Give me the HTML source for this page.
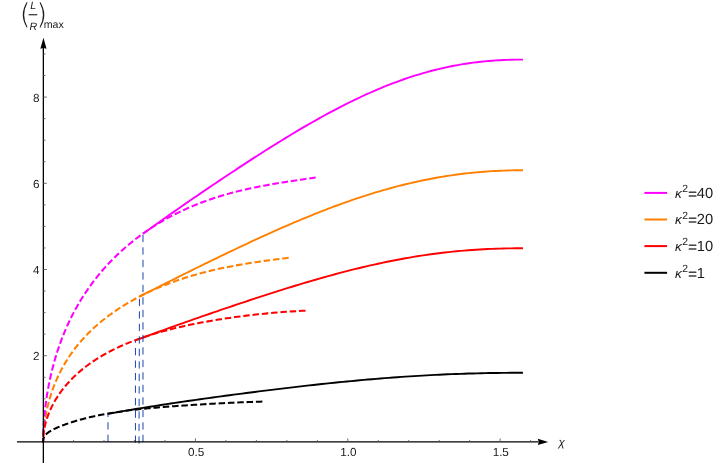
<!DOCTYPE html>
<html><head><meta charset="utf-8"><title>plot</title>
<style>
html,body{margin:0;padding:0;background:#fff;}
body{width:719px;height:465px;overflow:hidden;font-family:"Liberation Sans",sans-serif;}
svg{display:block;font-family:"Liberation Sans",sans-serif;will-change:transform;}
text{text-rendering:geometricPrecision;}
</style></head><body>
<svg width="719" height="465" viewBox="0 0 719 465">
<rect width="719" height="465" fill="#fff"/>
<path d="M43.10,442.25 L43.11,440.76 L43.14,439.25 L43.19,437.71 L43.26,436.15 L43.34,434.56 L43.45,432.95 L43.58,431.33 L43.72,429.69 L43.89,428.03 L44.07,426.36 L44.28,424.67 L44.50,422.98 L44.74,421.27 L45.00,419.56 L45.29,417.84 L45.59,416.11 L45.91,414.38 L46.25,412.64 L46.61,410.91 L46.99,409.17 L47.38,407.43 L47.80,405.69 L48.24,403.95 L48.70,402.21 L49.17,400.47 L49.67,398.74 L50.18,397.01 L50.72,395.29 L51.27,393.57 L51.84,391.86 L52.44,390.15 L53.05,388.45 L53.68,386.75 L54.33,385.07 L55.00,383.39 L55.69,381.72 L56.40,380.06 L57.13,378.40 L57.88,376.76 L58.64,375.12 L59.43,373.50 L60.24,371.88 L61.06,370.27 L61.91,368.68 L62.77,367.09 L63.66,365.51 L64.56,363.95 L65.48,362.39 L66.43,360.85 L67.39,359.32 L68.37,357.79 L69.37,356.28 L70.39,354.78 L71.43,353.29 L72.49,351.81 L73.57,350.34 L74.66,348.88 L75.78,347.44 L76.92,346.00 L78.07,344.58 L79.25,343.16 L80.44,341.76 L81.66,340.37 L82.89,338.99 L84.15,337.61 L85.42,336.25 L86.71,334.90 L88.02,333.57 L89.35,332.24 L90.70,330.92 L92.07,329.61 L93.46,328.32 L94.87,327.03 L96.30,325.75 L97.75,324.49 L99.21,323.23 L100.70,321.99 L102.20,320.75 L103.73,319.53 L105.27,318.32 L106.84,317.11 L108.42,315.92 L110.03,314.74 L111.65,313.56 L113.29,312.40 L114.95,311.25 L116.63,310.11 L118.33,308.97 L120.05,307.85 L121.79,306.74 L123.55,305.64 L125.33,304.55 L127.12,303.47 L128.94,302.40 L130.78,301.34 L132.63,300.30 L134.51,299.26 L136.40,298.23 L138.31,297.22 L140.25,296.21 L142.20,295.22 L144.17,294.24 L146.16,293.26 L148.18,292.30 L150.21,291.36 L152.26,290.42 L154.32,289.49 L156.41,288.58 L158.52,287.67 L160.65,286.78 L162.80,285.90 L164.96,285.04 L167.15,284.18 L169.35,283.34 L171.58,282.51 L173.82,281.69 L176.09,280.89 L178.37,280.09 L180.67,279.31 L182.99,278.54 L185.33,277.79 L187.70,277.05 L190.08,276.32 L192.47,275.60 L194.89,274.90 L197.33,274.21 L199.79,273.53 L202.27,272.86 L204.76,272.21 L207.28,271.57 L209.82,270.94 L212.37,270.33 L214.95,269.73 L217.54,269.14 L220.15,268.57 L222.79,268.00 L225.44,267.45 L228.11,266.91 L230.80,266.39 L233.51,265.87 L236.24,265.37 L238.99,264.87 L241.76,264.39 L244.55,263.92 L247.35,263.46 L250.18,263.01 L253.03,262.57 L255.89,262.14 L258.78,261.71 L261.68,261.30 L264.61,260.89 L267.55,260.49 L270.51,260.10 L273.50,259.71 L276.50,259.32 L279.52,258.94 L282.56,258.57 L285.62,258.19 L288.70,257.82" fill="none" stroke="#ff8000" stroke-width="2.05" stroke-dasharray="6.5 2.83" stroke-dashoffset="3.13"/>
<path d="M43.10,442.25 L43.11,439.95 L43.14,437.61 L43.20,435.25 L43.27,432.86 L43.37,430.44 L43.49,428.00 L43.63,425.55 L43.79,423.07 L43.97,420.58 L44.18,418.07 L44.40,415.55 L44.65,413.02 L44.92,410.48 L45.21,407.93 L45.53,405.38 L45.86,402.83 L46.22,400.27 L46.59,397.70 L46.99,395.14 L47.41,392.58 L47.86,390.02 L48.32,387.46 L48.80,384.91 L49.31,382.36 L49.84,379.82 L50.39,377.28 L50.96,374.75 L51.55,372.23 L52.17,369.71 L52.80,367.21 L53.46,364.72 L54.14,362.23 L54.84,359.76 L55.56,357.30 L56.31,354.85 L57.07,352.41 L57.86,349.99 L58.67,347.57 L59.50,345.18 L60.35,342.79 L61.23,340.42 L62.12,338.06 L63.04,335.72 L63.98,333.39 L64.94,331.08 L65.92,328.78 L66.92,326.50 L67.94,324.23 L68.99,321.97 L70.06,319.74 L71.15,317.51 L72.26,315.31 L73.39,313.12 L74.54,310.94 L75.72,308.78 L76.91,306.64 L78.13,304.51 L79.37,302.39 L80.63,300.30 L81.92,298.22 L83.22,296.15 L84.55,294.10 L85.90,292.07 L87.27,290.05 L88.66,288.05 L90.07,286.06 L91.50,284.09 L92.96,282.13 L94.44,280.19 L95.94,278.27 L97.46,276.36 L99.00,274.47 L100.56,272.59 L102.15,270.73 L103.75,268.89 L105.38,267.06 L107.03,265.25 L108.70,263.45 L110.40,261.67 L112.11,259.91 L113.85,258.16 L115.60,256.43 L117.38,254.71 L119.18,253.02 L121.01,251.33 L122.85,249.67 L124.72,248.02 L126.60,246.38 L128.51,244.77 L130.44,243.17 L132.39,241.59 L134.37,240.02 L136.36,238.48 L138.38,236.95 L140.41,235.44 L142.47,233.94 L144.56,232.47 L146.66,231.01 L148.78,229.57 L150.93,228.15 L153.10,226.74 L155.28,225.36 L157.49,223.99 L159.73,222.64 L161.98,221.32 L164.26,220.01 L166.55,218.72 L168.87,217.45 L171.21,216.20 L173.57,214.97 L175.95,213.76 L178.36,212.57 L180.79,211.40 L183.23,210.25 L185.70,209.12 L188.19,208.02 L190.71,206.93 L193.24,205.86 L195.80,204.82 L198.37,203.79 L200.97,202.79 L203.59,201.80 L206.23,200.84 L208.90,199.90 L211.58,198.98 L214.29,198.08 L217.02,197.20 L219.77,196.34 L222.54,195.50 L225.33,194.68 L228.14,193.88 L230.98,193.10 L233.84,192.34 L236.72,191.60 L239.62,190.88 L242.54,190.17 L245.48,189.49 L248.45,188.82 L251.43,188.17 L254.44,187.53 L257.47,186.91 L260.52,186.31 L263.60,185.72 L266.69,185.14 L269.81,184.58 L272.95,184.03 L276.11,183.49 L279.29,182.96 L282.49,182.44 L285.71,181.93 L288.96,181.43 L292.23,180.93 L295.51,180.43 L298.82,179.94 L302.16,179.45 L305.51,178.96 L308.89,178.47 L312.28,177.97 L315.70,177.47" fill="none" stroke="#ff00ff" stroke-width="2.05" stroke-dasharray="6.5 2.83" stroke-dashoffset="2.23"/>
<path d="M43.10,442.25 L43.11,441.02 L43.14,439.79 L43.19,438.56 L43.27,437.34 L43.36,436.11 L43.47,434.88 L43.61,433.65 L43.76,432.42 L43.94,431.19 L44.14,429.95 L44.36,428.72 L44.59,427.49 L44.85,426.26 L45.13,425.03 L45.44,423.79 L45.76,422.56 L46.10,421.33 L46.46,420.10 L46.85,418.87 L47.25,417.63 L47.68,416.40 L48.12,415.17 L48.59,413.95 L49.08,412.72 L49.59,411.49 L50.12,410.27 L50.67,409.04 L51.24,407.82 L51.83,406.60 L52.44,405.38 L53.07,404.17 L53.73,402.96 L54.40,401.75 L55.10,400.54 L55.81,399.34 L56.55,398.14 L57.31,396.94 L58.09,395.75 L58.89,394.56 L59.71,393.38 L60.55,392.20 L61.41,391.02 L62.29,389.85 L63.19,388.69 L64.12,387.53 L65.06,386.37 L66.03,385.22 L67.01,384.08 L68.02,382.95 L69.05,381.82 L70.10,380.69 L71.17,379.57 L72.26,378.46 L73.37,377.36 L74.50,376.26 L75.65,375.18 L76.82,374.10 L78.02,373.02 L79.23,371.96 L80.47,370.90 L81.72,369.85 L83.00,368.81 L84.30,367.77 L85.61,366.75 L86.95,365.73 L88.31,364.73 L89.69,363.73 L91.09,362.74 L92.52,361.76 L93.96,360.79 L95.42,359.83 L96.91,358.88 L98.41,357.93 L99.94,357.00 L101.48,356.07 L103.05,355.16 L104.64,354.26 L106.25,353.36 L107.88,352.48 L109.53,351.60 L111.20,350.73 L112.89,349.88 L114.60,349.03 L116.34,348.19 L118.09,347.37 L119.87,346.55 L121.66,345.74 L123.48,344.95 L125.31,344.16 L127.17,343.38 L129.05,342.61 L130.95,341.85 L132.87,341.11 L134.81,340.37 L136.77,339.64 L138.76,338.92 L140.76,338.21 L142.78,337.50 L144.83,336.81 L146.89,336.13 L148.98,335.46 L151.09,334.79 L153.21,334.13 L155.36,333.49 L157.53,332.85 L159.72,332.22 L161.93,331.60 L164.16,330.99 L166.42,330.39 L168.69,329.79 L170.98,329.21 L173.30,328.63 L175.63,328.06 L177.99,327.50 L180.37,326.94 L182.76,326.40 L185.18,325.86 L187.62,325.33 L190.08,324.81 L192.56,324.30 L195.06,323.79 L197.59,323.29 L200.13,322.80 L202.69,322.32 L205.28,321.84 L207.88,321.38 L210.51,320.91 L213.16,320.46 L215.82,320.02 L218.51,319.58 L221.22,319.15 L223.95,318.73 L226.70,318.31 L229.47,317.90 L232.26,317.51 L235.08,317.11 L237.91,316.73 L240.76,316.36 L243.64,315.99 L246.53,315.63 L249.45,315.28 L252.39,314.94 L255.35,314.60 L258.33,314.28 L261.33,313.97 L264.35,313.66 L267.39,313.36 L270.45,313.08 L273.53,312.80 L276.64,312.54 L279.76,312.29 L282.90,312.04 L286.07,311.81 L289.26,311.60 L292.46,311.39 L295.69,311.20 L298.94,311.02 L302.21,310.85 L305.50,310.70" fill="none" stroke="#ff0000" stroke-width="2.05" stroke-dasharray="6.5 2.83" stroke-dashoffset="4.09"/>
<path d="M43.10,442.25 L43.11,441.67 L43.13,441.12 L43.18,440.59 L43.24,440.08 L43.32,439.59 L43.41,439.11 L43.53,438.66 L43.66,438.22 L43.80,437.80 L43.97,437.39 L44.15,436.99 L44.35,436.61 L44.57,436.23 L44.80,435.87 L45.05,435.51 L45.32,435.16 L45.61,434.82 L45.91,434.49 L46.23,434.16 L46.57,433.83 L46.93,433.52 L47.30,433.20 L47.69,432.89 L48.10,432.58 L48.52,432.27 L48.96,431.97 L49.42,431.66 L49.90,431.36 L50.40,431.06 L50.91,430.76 L51.44,430.46 L51.98,430.16 L52.55,429.85 L53.13,429.55 L53.73,429.25 L54.34,428.95 L54.98,428.65 L55.63,428.34 L56.29,428.04 L56.98,427.73 L57.68,427.42 L58.40,427.11 L59.14,426.81 L59.89,426.49 L60.67,426.18 L61.46,425.87 L62.26,425.56 L63.09,425.24 L63.93,424.93 L64.79,424.61 L65.66,424.29 L66.56,423.97 L67.47,423.65 L68.39,423.34 L69.34,423.02 L70.30,422.70 L71.28,422.38 L72.28,422.06 L73.30,421.74 L74.33,421.42 L75.38,421.10 L76.44,420.78 L77.53,420.46 L78.63,420.15 L79.75,419.83 L80.89,419.52 L82.04,419.20 L83.21,418.89 L84.40,418.58 L85.61,418.27 L86.83,417.97 L88.07,417.66 L89.33,417.36 L90.60,417.06 L91.89,416.76 L93.20,416.47 L94.53,416.17 L95.88,415.88 L97.24,415.59 L98.62,415.31 L100.01,415.03 L101.43,414.75 L102.86,414.47 L104.31,414.20 L105.77,413.93 L107.26,413.67 L108.76,413.41 L110.28,413.15 L111.81,412.89 L113.36,412.64 L114.93,412.39 L116.52,412.15 L118.13,411.90 L119.75,411.67 L121.39,411.43 L123.04,411.20 L124.72,410.98 L126.41,410.75 L128.12,410.53 L129.84,410.32 L131.59,410.10 L133.35,409.89 L135.13,409.69 L136.92,409.48 L138.74,409.29 L140.57,409.09 L142.41,408.90 L144.28,408.71 L146.16,408.52 L148.06,408.33 L149.98,408.15 L151.91,407.97 L153.86,407.80 L155.83,407.62 L157.82,407.45 L159.82,407.28 L161.85,407.12 L163.88,406.95 L165.94,406.79 L168.01,406.63 L170.10,406.47 L172.21,406.31 L174.34,406.16 L176.48,406.01 L178.64,405.85 L180.82,405.70 L183.01,405.55 L185.22,405.41 L187.45,405.26 L189.70,405.11 L191.96,404.97 L194.24,404.83 L196.54,404.68 L198.86,404.54 L201.19,404.40 L203.54,404.26 L205.91,404.13 L208.30,403.99 L210.70,403.85 L213.12,403.72 L215.56,403.58 L218.01,403.45 L220.48,403.32 L222.97,403.19 L225.48,403.07 L228.01,402.94 L230.55,402.82 L233.11,402.69 L235.68,402.58 L238.28,402.46 L240.89,402.35 L243.52,402.24 L246.16,402.13 L248.82,402.03 L251.50,401.93 L254.20,401.84 L256.92,401.75 L259.65,401.67 L262.40,401.60" fill="none" stroke="#000000" stroke-width="2.05" stroke-dasharray="6.5 2.83" stroke-dashoffset="0.86"/>
<path d="M143.00,233.69 L146.84,230.91 L150.68,228.15 L154.51,225.41 L158.35,222.68 L162.19,219.96 L166.03,217.25 L169.87,214.55 L173.70,211.87 L177.54,209.19 L181.38,206.53 L185.22,203.88 L189.05,201.23 L192.89,198.59 L196.73,195.96 L200.57,193.35 L204.41,190.74 L208.24,188.13 L212.08,185.54 L215.92,182.96 L219.76,180.38 L223.60,177.81 L227.43,175.26 L231.27,172.71 L235.11,170.17 L238.95,167.65 L242.78,165.13 L246.62,162.63 L250.46,160.14 L254.30,157.66 L258.14,155.19 L261.97,152.74 L265.81,150.30 L269.65,147.88 L273.49,145.48 L277.33,143.09 L281.16,140.72 L285.00,138.36 L288.84,136.03 L292.68,133.71 L296.52,131.42 L300.35,129.15 L304.19,126.90 L308.03,124.67 L311.87,122.47 L315.70,120.30 L319.54,118.15 L323.38,116.02 L327.22,113.93 L331.06,111.86 L334.89,109.83 L338.73,107.82 L342.57,105.85 L346.41,103.91 L350.25,102.00 L354.08,100.13 L357.92,98.29 L361.76,96.49 L365.60,94.72 L369.43,93.00 L373.27,91.31 L377.11,89.66 L380.95,88.05 L384.79,86.48 L388.62,84.95 L392.46,83.46 L396.30,82.02 L400.14,80.62 L403.98,79.26 L407.81,77.95 L411.65,76.68 L415.49,75.46 L419.33,74.29 L423.17,73.15 L427.00,72.07 L430.84,71.03 L434.68,70.04 L438.52,69.09 L442.35,68.20 L446.19,67.34 L450.03,66.54 L453.87,65.78 L457.71,65.07 L461.54,64.40 L465.38,63.78 L469.22,63.21 L473.06,62.68 L476.90,62.20 L480.73,61.76 L484.57,61.36 L488.41,61.01 L492.25,60.70 L496.08,60.42 L499.92,60.19 L503.76,60.00 L507.60,59.85 L511.44,59.73 L515.27,59.65 L519.11,59.60 L522.95,59.59" fill="none" stroke="#ff00ff" stroke-width="1.9"/>
<path d="M139.30,296.63 L143.18,294.67 L147.05,292.70 L150.93,290.74 L154.80,288.78 L158.68,286.83 L162.55,284.88 L166.43,282.93 L170.30,280.99 L174.18,279.05 L178.05,277.12 L181.93,275.19 L185.80,273.26 L189.68,271.34 L193.55,269.42 L197.43,267.51 L201.30,265.61 L205.18,263.71 L209.05,261.81 L212.93,259.92 L216.81,258.04 L220.68,256.17 L224.56,254.30 L228.43,252.44 L232.31,250.59 L236.18,248.75 L240.06,246.91 L243.93,245.09 L247.81,243.27 L251.68,241.47 L255.56,239.68 L259.43,237.89 L263.31,236.12 L267.18,234.37 L271.06,232.62 L274.93,230.89 L278.81,229.17 L282.68,227.47 L286.56,225.78 L290.43,224.11 L294.31,222.46 L298.19,220.82 L302.06,219.20 L305.94,217.59 L309.81,216.01 L313.69,214.44 L317.56,212.90 L321.44,211.37 L325.31,209.87 L329.19,208.39 L333.06,206.92 L336.94,205.49 L340.81,204.07 L344.69,202.68 L348.56,201.31 L352.44,199.97 L356.31,198.65 L360.19,197.35 L364.06,196.09 L367.94,194.85 L371.82,193.63 L375.69,192.45 L379.57,191.29 L383.44,190.16 L387.32,189.06 L391.19,187.99 L395.07,186.95 L398.94,185.94 L402.82,184.96 L406.69,184.01 L410.57,183.09 L414.44,182.20 L418.32,181.34 L422.19,180.51 L426.07,179.72 L429.94,178.96 L433.82,178.23 L437.69,177.53 L441.57,176.87 L445.44,176.23 L449.32,175.63 L453.20,175.07 L457.07,174.53 L460.95,174.03 L464.82,173.56 L468.70,173.12 L472.57,172.72 L476.45,172.35 L480.32,172.00 L484.20,171.70 L488.07,171.42 L491.95,171.17 L495.82,170.96 L499.70,170.77 L503.57,170.62 L507.45,170.49 L511.32,170.39 L515.20,170.32 L519.07,170.28 L522.95,170.27" fill="none" stroke="#ff8000" stroke-width="1.9"/>
<path d="M135.40,340.46 L139.31,338.98 L143.23,337.51 L147.14,336.06 L151.06,334.61 L154.97,333.17 L158.89,331.74 L162.80,330.32 L166.72,328.90 L170.63,327.50 L174.55,326.10 L178.46,324.70 L182.38,323.31 L186.29,321.93 L190.21,320.55 L194.12,319.18 L198.03,317.81 L201.95,316.45 L205.86,315.09 L209.78,313.74 L213.69,312.40 L217.61,311.05 L221.52,309.72 L225.44,308.38 L229.35,307.06 L233.27,305.74 L237.18,304.42 L241.10,303.11 L245.01,301.81 L248.92,300.51 L252.84,299.22 L256.75,297.93 L260.67,296.65 L264.58,295.38 L268.50,294.12 L272.41,292.87 L276.33,291.62 L280.24,290.38 L284.16,289.15 L288.07,287.94 L291.99,286.73 L295.90,285.53 L299.82,284.35 L303.73,283.17 L307.64,282.01 L311.56,280.86 L315.47,279.72 L319.39,278.60 L323.30,277.49 L327.22,276.39 L331.13,275.31 L335.05,274.25 L338.96,273.20 L342.88,272.17 L346.79,271.15 L350.71,270.15 L354.62,269.17 L358.53,268.21 L362.45,267.27 L366.36,266.35 L370.28,265.44 L374.19,264.56 L378.11,263.70 L382.02,262.86 L385.94,262.04 L389.85,261.24 L393.77,260.46 L397.68,259.71 L401.60,258.98 L405.51,258.27 L409.43,257.59 L413.34,256.93 L417.25,256.29 L421.17,255.68 L425.08,255.09 L429.00,254.53 L432.91,253.99 L436.83,253.48 L440.74,252.99 L444.66,252.52 L448.57,252.09 L452.49,251.67 L456.40,251.28 L460.32,250.92 L464.23,250.58 L468.14,250.27 L472.06,249.98 L475.97,249.71 L479.89,249.47 L483.80,249.25 L487.72,249.06 L491.63,248.89 L495.55,248.74 L499.46,248.61 L503.38,248.50 L507.29,248.42 L511.21,248.35 L515.12,248.31 L519.04,248.28 L522.95,248.27" fill="none" stroke="#ff0000" stroke-width="1.9"/>
<path d="M107.97,413.84 L112.16,413.08 L116.35,412.34 L120.55,411.60 L124.74,410.88 L128.93,410.17 L133.12,409.47 L137.31,408.77 L141.50,408.09 L145.70,407.42 L149.89,406.75 L154.08,406.09 L158.27,405.44 L162.46,404.79 L166.65,404.16 L170.85,403.52 L175.04,402.90 L179.23,402.28 L183.42,401.66 L187.61,401.06 L191.80,400.45 L196.00,399.85 L200.19,399.26 L204.38,398.67 L208.57,398.09 L212.76,397.51 L216.95,396.93 L221.15,396.36 L225.34,395.80 L229.53,395.23 L233.72,394.68 L237.91,394.12 L242.10,393.57 L246.30,393.03 L250.49,392.49 L254.68,391.95 L258.87,391.42 L263.06,390.89 L267.26,390.37 L271.45,389.85 L275.64,389.34 L279.83,388.83 L284.02,388.33 L288.21,387.83 L292.41,387.34 L296.60,386.85 L300.79,386.37 L304.98,385.89 L309.17,385.42 L313.36,384.96 L317.56,384.50 L321.75,384.05 L325.94,383.61 L330.13,383.17 L334.32,382.74 L338.51,382.31 L342.71,381.89 L346.90,381.48 L351.09,381.08 L355.28,380.69 L359.47,380.30 L363.66,379.92 L367.86,379.56 L372.05,379.19 L376.24,378.84 L380.43,378.50 L384.62,378.16 L388.82,377.84 L393.01,377.52 L397.20,377.22 L401.39,376.92 L405.58,376.63 L409.77,376.35 L413.97,376.09 L418.16,375.83 L422.35,375.58 L426.54,375.35 L430.73,375.12 L434.92,374.91 L439.12,374.70 L443.31,374.51 L447.50,374.32 L451.69,374.15 L455.88,373.98 L460.07,373.83 L464.27,373.69 L468.46,373.56 L472.65,373.44 L476.84,373.33 L481.03,373.23 L485.22,373.14 L489.42,373.06 L493.61,372.99 L497.80,372.93 L501.99,372.88 L506.18,372.84 L510.37,372.81 L514.57,372.79 L518.76,372.78 L522.95,372.77" fill="none" stroke="#000000" stroke-width="1.9"/>
<line x1="107.97" y1="442.00" x2="107.97" y2="414.34" stroke="#0d3ca8" stroke-width="0.95" stroke-dasharray="7.3 5.2"/>
<line x1="135.45" y1="442.80" x2="135.45" y2="340.96" stroke="#0d3ca8" stroke-width="0.95" stroke-dasharray="7.3 5.2"/>
<line x1="139.00" y1="443.60" x2="139.45" y2="297.13" stroke="#0d3ca8" stroke-width="0.95" stroke-dasharray="7.3 5.2"/>
<line x1="142.97" y1="442.10" x2="142.97" y2="234.19" stroke="#0d3ca8" stroke-width="0.95" stroke-dasharray="7.3 5.2"/>
<line x1="17" y1="441.9" x2="538.5" y2="441.9" stroke="#000" stroke-width="1.3"/>
<line x1="43.35" y1="463" x2="43.35" y2="48" stroke="#000" stroke-width="1.3"/>
<path d="M548.2,441.9 L537.8,438.84999999999997 L538.7,441.9 L537.8,444.95 Z" fill="#000"/>
<path d="M43.45,37.8 L40.35,48.8 L43.45,47.9 L46.550000000000004,48.8 Z" fill="#000"/>
<line x1="73.57" y1="441.9" x2="73.57" y2="440.0" stroke="#555" stroke-width="0.85"/>
<line x1="104.04" y1="441.9" x2="104.04" y2="440.0" stroke="#555" stroke-width="0.85"/>
<line x1="134.51" y1="441.9" x2="134.51" y2="440.0" stroke="#555" stroke-width="0.85"/>
<line x1="164.98" y1="441.9" x2="164.98" y2="440.0" stroke="#555" stroke-width="0.85"/>
<line x1="195.45" y1="441.9" x2="195.45" y2="438.4" stroke="#555" stroke-width="0.85"/>
<line x1="225.92" y1="441.9" x2="225.92" y2="440.0" stroke="#555" stroke-width="0.85"/>
<line x1="256.39" y1="441.9" x2="256.39" y2="440.0" stroke="#555" stroke-width="0.85"/>
<line x1="286.86" y1="441.9" x2="286.86" y2="440.0" stroke="#555" stroke-width="0.85"/>
<line x1="317.33" y1="441.9" x2="317.33" y2="440.0" stroke="#555" stroke-width="0.85"/>
<line x1="347.80" y1="441.9" x2="347.80" y2="438.4" stroke="#555" stroke-width="0.85"/>
<line x1="378.27" y1="441.9" x2="378.27" y2="440.0" stroke="#555" stroke-width="0.85"/>
<line x1="408.74" y1="441.9" x2="408.74" y2="440.0" stroke="#555" stroke-width="0.85"/>
<line x1="439.21" y1="441.9" x2="439.21" y2="440.0" stroke="#555" stroke-width="0.85"/>
<line x1="469.68" y1="441.9" x2="469.68" y2="440.0" stroke="#555" stroke-width="0.85"/>
<line x1="500.15" y1="441.9" x2="500.15" y2="438.4" stroke="#555" stroke-width="0.85"/>
<line x1="530.62" y1="441.9" x2="530.62" y2="440.0" stroke="#555" stroke-width="0.85"/>
<line x1="43.35" y1="420.35" x2="45.550000000000004" y2="420.35" stroke="#555" stroke-width="0.85"/>
<line x1="43.35" y1="398.80" x2="45.550000000000004" y2="398.80" stroke="#555" stroke-width="0.85"/>
<line x1="43.35" y1="377.25" x2="45.550000000000004" y2="377.25" stroke="#555" stroke-width="0.85"/>
<line x1="43.35" y1="355.70" x2="46.85" y2="355.70" stroke="#555" stroke-width="0.85"/>
<line x1="43.35" y1="334.15" x2="45.550000000000004" y2="334.15" stroke="#555" stroke-width="0.85"/>
<line x1="43.35" y1="312.60" x2="45.550000000000004" y2="312.60" stroke="#555" stroke-width="0.85"/>
<line x1="43.35" y1="291.05" x2="45.550000000000004" y2="291.05" stroke="#555" stroke-width="0.85"/>
<line x1="43.35" y1="269.50" x2="46.85" y2="269.50" stroke="#555" stroke-width="0.85"/>
<line x1="43.35" y1="247.95" x2="45.550000000000004" y2="247.95" stroke="#555" stroke-width="0.85"/>
<line x1="43.35" y1="226.40" x2="45.550000000000004" y2="226.40" stroke="#555" stroke-width="0.85"/>
<line x1="43.35" y1="204.85" x2="45.550000000000004" y2="204.85" stroke="#555" stroke-width="0.85"/>
<line x1="43.35" y1="183.30" x2="46.85" y2="183.30" stroke="#555" stroke-width="0.85"/>
<line x1="43.35" y1="161.75" x2="45.550000000000004" y2="161.75" stroke="#555" stroke-width="0.85"/>
<line x1="43.35" y1="140.20" x2="45.550000000000004" y2="140.20" stroke="#555" stroke-width="0.85"/>
<line x1="43.35" y1="118.65" x2="45.550000000000004" y2="118.65" stroke="#555" stroke-width="0.85"/>
<line x1="43.35" y1="97.10" x2="46.85" y2="97.10" stroke="#555" stroke-width="0.85"/>
<line x1="43.35" y1="75.55" x2="45.550000000000004" y2="75.55" stroke="#555" stroke-width="0.85"/>
<line x1="43.35" y1="54.00" x2="45.550000000000004" y2="54.00" stroke="#555" stroke-width="0.85"/>
<text x="196.05" y="456.4" text-anchor="middle" font-size="11.7" fill="#1a1a1a">0.5</text>
<text x="348.40" y="456.4" text-anchor="middle" font-size="11.7" fill="#1a1a1a">1.0</text>
<text x="500.75" y="456.4" text-anchor="middle" font-size="11.7" fill="#1a1a1a">1.5</text>
<text x="39.5" y="360.30" text-anchor="end" font-size="11.7" fill="#1a1a1a">2</text>
<text x="39.5" y="274.10" text-anchor="end" font-size="11.7" fill="#1a1a1a">4</text>
<text x="39.5" y="187.90" text-anchor="end" font-size="11.7" fill="#1a1a1a">6</text>
<text x="39.5" y="101.70" text-anchor="end" font-size="11.7" fill="#1a1a1a">8</text>
<text x="558.5" y="446.4" font-size="11.5" font-style="italic" fill="#1a1a1a">χ</text>
<text x="30.2" y="9.2" font-size="10.6" font-style="italic" fill="#1a1a1a">L</text>
<text x="29.4" y="29.8" font-size="10.6" font-style="italic" fill="#1a1a1a">R</text>
<line x1="28.6" y1="14.75" x2="37.3" y2="14.75" stroke="#1a1a1a" stroke-width="1.1"/>
<path d="M26.8,2.1 Q18.8,15 26.8,27.7 L27.5,27.3 Q20.8,15 27.5,2.5 Z" fill="#1a1a1a"/>
<path d="M40.3,2.1 Q48.3,15 40.3,27.7 L39.6,27.3 Q46.3,15 39.6,2.5 Z" fill="#1a1a1a"/>
<text x="43.8" y="27.8" font-size="10.6" fill="#1a1a1a">max</text>
<line x1="644.4" y1="192.9" x2="667.1" y2="192.9" stroke="#ff00ff" stroke-width="2"/>
<text x="674.7" y="197.7" font-size="14.7" fill="#1a1a1a"><tspan font-style="italic" font-size="13.5" dx="0.3">κ</tspan><tspan dy="-5.8" dx="0.4" font-size="10.4">2</tspan><tspan dy="6.9" dx="0.3" stroke="#1a1a1a" stroke-width="0.3">=</tspan><tspan dy="-1.1">40</tspan></text>
<line x1="644.4" y1="219.5" x2="667.1" y2="219.5" stroke="#ff8000" stroke-width="2"/>
<text x="674.7" y="224.3" font-size="14.7" fill="#1a1a1a"><tspan font-style="italic" font-size="13.5" dx="0.3">κ</tspan><tspan dy="-5.8" dx="0.4" font-size="10.4">2</tspan><tspan dy="6.9" dx="0.3" stroke="#1a1a1a" stroke-width="0.3">=</tspan><tspan dy="-1.1">20</tspan></text>
<line x1="644.4" y1="246.1" x2="667.1" y2="246.1" stroke="#ff0000" stroke-width="2"/>
<text x="674.7" y="250.9" font-size="14.7" fill="#1a1a1a"><tspan font-style="italic" font-size="13.5" dx="0.3">κ</tspan><tspan dy="-5.8" dx="0.4" font-size="10.4">2</tspan><tspan dy="6.9" dx="0.3" stroke="#1a1a1a" stroke-width="0.3">=</tspan><tspan dy="-1.1">10</tspan></text>
<line x1="644.4" y1="272.8" x2="667.1" y2="272.8" stroke="#000000" stroke-width="2"/>
<text x="674.7" y="277.6" font-size="14.7" fill="#1a1a1a"><tspan font-style="italic" font-size="13.5" dx="0.3">κ</tspan><tspan dy="-5.8" dx="0.4" font-size="10.4">2</tspan><tspan dy="6.9" dx="0.3" stroke="#1a1a1a" stroke-width="0.3">=</tspan><tspan dy="-1.1">1</tspan></text>
</svg>
</body></html>
